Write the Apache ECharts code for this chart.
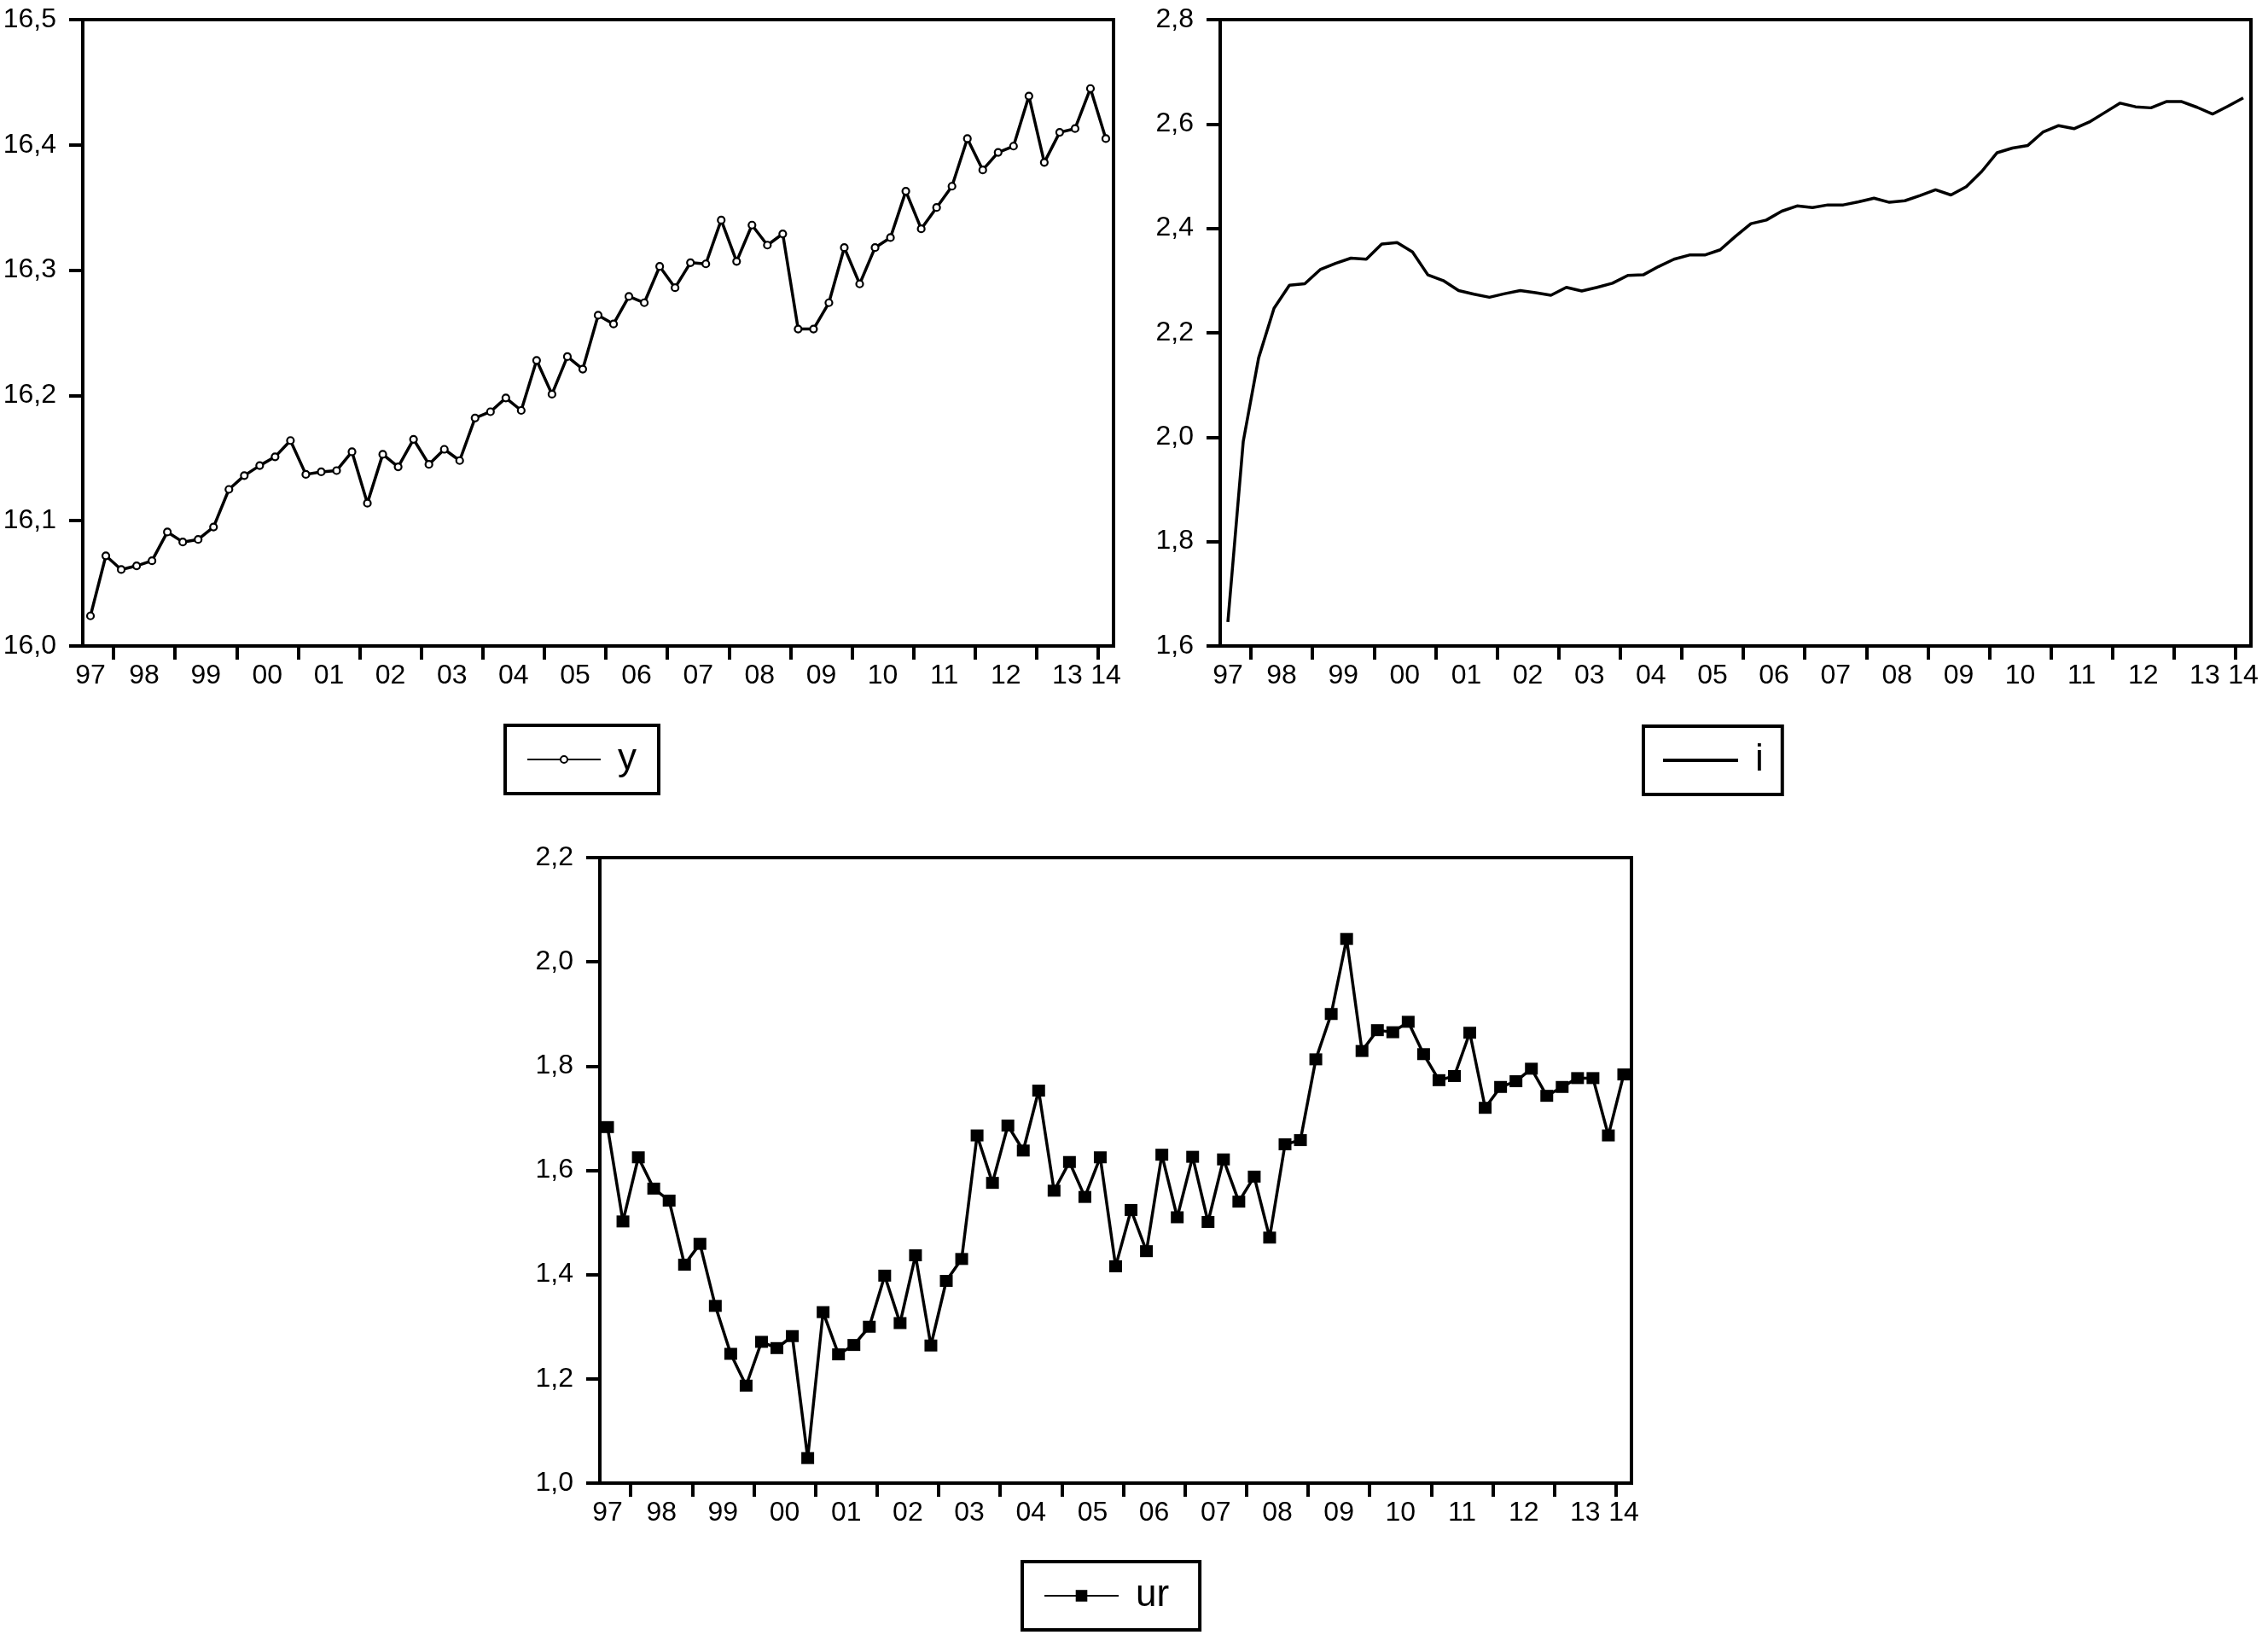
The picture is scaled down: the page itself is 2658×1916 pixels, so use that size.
<!DOCTYPE html>
<html>
<head>
<meta charset="utf-8">
<script src="https://cdn.jsdelivr.net/npm/echarts@6/dist/echarts.min.js"></script>
<style>
html,body{margin:0;padding:0;background:#fff;}
#c{width:2658px;height:1916px;}
</style>
</head>
<body>
<div id="c"></div>
<script>
// ---- data ----
const firstYear = 1997, firstQuarter = 3, nQuarters = 67;
const quarters = [];
for (let k = 0; k < nQuarters; k++) {
  const q0 = (firstQuarter - 1) + k;
  quarters.push((firstYear + Math.floor(q0 / 4)) + 'Q' + (q0 % 4 + 1));
}
const yearLabels = ['97','98','99','00','01','02','03','04','05','06','07','08','09','10','11','12','13','14'];

const yValues = [
  16.024, 16.072,
  16.061, 16.064, 16.068, 16.091,
  16.083, 16.085, 16.095, 16.125,
  16.136, 16.144, 16.151, 16.164,
  16.137, 16.139, 16.140, 16.155,
  16.114, 16.153, 16.143, 16.165,
  16.145, 16.157, 16.148, 16.182,
  16.187, 16.198, 16.188, 16.228,
  16.201, 16.231, 16.221, 16.264,
  16.257, 16.279, 16.274, 16.303,
  16.286, 16.306, 16.305, 16.340,
  16.307, 16.336, 16.320, 16.329,
  16.253, 16.253, 16.274, 16.318,
  16.289, 16.318, 16.326, 16.363,
  16.333, 16.350, 16.367, 16.405,
  16.380, 16.394, 16.399, 16.439,
  16.386, 16.410, 16.413, 16.445,
  16.405
];
const iValues = [
  1.646, 1.992,
  2.152, 2.247, 2.291, 2.294,
  2.321, 2.333, 2.343, 2.341,
  2.370, 2.373, 2.355, 2.311,
  2.300, 2.281, 2.274, 2.268,
  2.275, 2.281, 2.277, 2.272,
  2.287, 2.280, 2.287, 2.295,
  2.310, 2.311, 2.327, 2.341,
  2.349, 2.349, 2.359, 2.385,
  2.409, 2.416, 2.433, 2.443,
  2.440, 2.445, 2.445, 2.451,
  2.458, 2.450, 2.453, 2.463,
  2.474, 2.464, 2.480, 2.509,
  2.545, 2.554, 2.559, 2.585,
  2.597, 2.591, 2.604, 2.622,
  2.640, 2.633, 2.631, 2.643,
  2.643, 2.632, 2.619, 2.634,
  2.650
];
const urValues = [
  1.683, 1.502,
  1.625, 1.565, 1.542, 1.419,
  1.459, 1.340, 1.248, 1.187,
  1.271, 1.259, 1.282, 1.048,
  1.328, 1.247, 1.265, 1.300,
  1.398, 1.307, 1.437, 1.264,
  1.388, 1.430, 1.667, 1.576,
  1.686, 1.638, 1.753, 1.561,
  1.616, 1.549, 1.625, 1.416,
  1.524, 1.445, 1.630, 1.510,
  1.626, 1.501, 1.621, 1.540,
  1.588, 1.471, 1.650, 1.658,
  1.813, 1.900, 2.044, 1.829,
  1.869, 1.865, 1.885, 1.823,
  1.773, 1.781, 1.864, 1.720,
  1.760, 1.771, 1.795, 1.743,
  1.760, 1.777, 1.777, 1.667,
  1.784
];
const yTicks  = [16.0, 16.1, 16.2, 16.3, 16.4, 16.5];
const iTicks  = [1.6, 1.8, 2.0, 2.2, 2.4, 2.6, 2.8];
const urTicks = [1.0, 1.2, 1.4, 1.6, 1.8, 2.0, 2.2];

// ---- helpers ----
const FONT = '"Liberation Sans", Arial, Helvetica, sans-serif';
function qToT(s) { const y = +s.slice(0, 4), q = +s.slice(5); return y + (q - 0.5) / 4; }
const tVals = quarters.map(qToT);
const xMin = tVals[0] - 0.125, xMax = tVals[tVals.length - 1] + 0.125;
const lastYear = +quarters[quarters.length - 1].slice(0, 4);
const tickVals = [];
for (let yr = firstYear + 1; yr <= lastYear; yr++) tickVals.push(yr);
const labelVals = [], labelMap = {};
yearLabels.forEach((lab, k) => {
  const yr = firstYear + k;
  let pos;
  if (yr === firstYear && firstQuarter !== 1) pos = tVals[0];
  else if (yr === lastYear) pos = tVals[tVals.length - 1];
  else pos = yr + 0.5;
  labelVals.push(pos);
  labelMap[pos.toFixed(3)] = lab;
});
function pairs(vals) { return vals.map((v, k) => [tVals[k], v]); }
const commaFmt = v => v.toFixed(1).replace('.', ',');

function xAxis(gi) {
  return {
    type: 'value', gridIndex: gi, min: xMin, max: xMax,
    axisLine: { show: true, onZero: false, lineStyle: { color: '#000', width: 4 } },
    axisTick: { show: true, length: 16, lineStyle: { color: '#000', width: 4 }, customValues: tickVals },
    axisLabel: { customValues: labelVals, formatter: v => labelMap[v.toFixed(3)] || '',
      color: '#000', fontFamily: FONT, fontSize: 32, margin: 19 },
    splitLine: { show: false }
  };
}
function yAxis(gi, ticks) {
  return {
    type: 'value', gridIndex: gi, min: ticks[0], max: ticks[ticks.length - 1],
    interval: +(ticks[1] - ticks[0]).toFixed(4),
    axisLine: { show: true, onZero: false, lineStyle: { color: '#000', width: 4 } },
    axisTick: { show: true, length: 16, lineStyle: { color: '#000', width: 4 } },
    axisLabel: { formatter: commaFmt, color: '#000', fontFamily: FONT, fontSize: 32, margin: 31 },
    splitLine: { show: false }
  };
}
function gridBox(left, top, width, height) {
  return { left, top, width, height, show: true, borderColor: '#000', borderWidth: 4, backgroundColor: 'transparent' };
}
function legendBox(name, left, top, opts) {
  return Object.assign({
    data: [name], left, top, orient: 'horizontal', selectedMode: false,
    padding: [18, 26, 18, 25], itemGap: 0,
    borderColor: '#000', borderWidth: 4, borderRadius: 0,
    textStyle: { fontFamily: FONT, fontSize: 44, color: '#000', padding: [0, 0, 0, 15] }
  }, opts);
}

const option = {
  animation: false,
  backgroundColor: '#fff',
  grid: [
    gridBox(97, 23, 1208, 734),
    gridBox(1430, 23, 1208, 734),
    gridBox(703, 1005, 1209, 733)
  ],
  xAxis: [xAxis(0), xAxis(1), xAxis(2)],
  yAxis: [yAxis(0, yTicks), yAxis(1, iTicks), yAxis(2, urTicks)],
  legend: [
    legendBox('y', 592, 850, { itemWidth: 86, itemHeight: 10 }),
    legendBox('i', 1926, 851, { itemWidth: 88, itemHeight: 4, icon: 'rect', padding: [18, 22, 18, 23] }),
    legendBox('ur', 1198, 1830, { itemWidth: 87, itemHeight: 17, padding: [18, 36, 18, 25] })
  ],
  series: [
    { name: 'y', type: 'line', xAxisIndex: 0, yAxisIndex: 0, data: pairs(yValues),
      symbol: 'circle', symbolSize: 8, showAllSymbol: true,
      lineStyle: { color: '#000', width: 3.5 },
      itemStyle: { color: '#fff', borderColor: '#000', borderWidth: 2.2 } },
    { name: 'i', type: 'line', xAxisIndex: 1, yAxisIndex: 1, data: pairs(iValues),
      symbol: 'none', lineStyle: { color: '#000', width: 3.5 }, itemStyle: { color: '#000' } },
    { name: 'ur', type: 'line', xAxisIndex: 2, yAxisIndex: 2, data: pairs(urValues),
      symbol: 'rect', symbolSize: [15, 14], showAllSymbol: true,
      lineStyle: { color: '#000', width: 3.5 }, itemStyle: { color: '#000' } }
  ]
};
const chart = echarts.init(document.getElementById('c'), null, { renderer: 'canvas' });
chart.setOption(option);
</script>
</body>
</html>
